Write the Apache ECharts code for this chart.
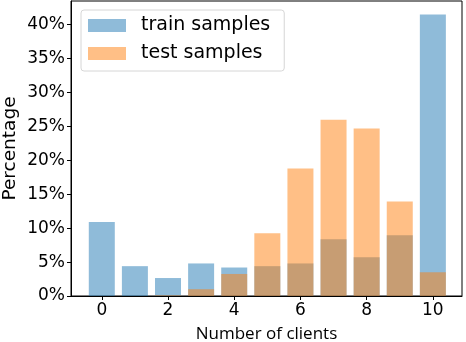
<!DOCTYPE html>
<html>
<head>
<meta charset="utf-8">
<script src="https://cdn.jsdelivr.net/npm/echarts@6/dist/echarts.min.js"></script>
<style>
  html, body { margin: 0; padding: 0; background: #fff; }
  #chart { width: 466px; height: 342px; }
</style>
</head>
<body>
<div id="chart"></div>
<script>
// number of clients on x
const clients = [0, 1, 2, 3, 4, 5, 6, 7, 8, 9, 10]
// percentages
const trainPct = [10.9, 4.4, 2.65, 4.8, 4.2, 4.4, 4.8, 8.35, 5.7, 8.95, 41.5]
const testPct = [0, 0, 0.1, 1.0, 3.25, 9.25, 18.8, 26.0, 24.7, 13.95, 3.5]
const xTicks = [0, 2, 4, 6, 8, 10]
const yTicks = [0, 5, 10, 15, 20, 25, 30, 35, 40]

const chart = echarts.init(document.getElementById('chart'))

const axisFont = 'DejaVu Sans'

const option = {
  animation: false,
  grid: {
    left: 71,
    right: 4,
    top: 1,
    bottom: 46,
    outerBoundsMode: 'none',
    show: true,
    borderColor: '#000',
    borderWidth: 1
  },
  legend: {
    left: 81,
    top: 10,
    orient: 'vertical',
    icon: 'rect',
    itemWidth: 38,
    itemHeight: 13,
    itemGap: 9,
    padding: [6, 14, 8, 7],
    borderColor: '#d6d6d6',
    borderWidth: 1,
    borderRadius: 3,
    backgroundColor: 'rgba(255,255,255,0.8)',
    textStyle: {
      fontFamily: axisFont,
      fontSize: 19,
      color: '#000',
      padding: [0, 0, 0, 10]
    },
    data: ['train samples', 'test samples']
  },
  xAxis: {
    type: 'value',
    min: -0.93,
    max: 10.88,
    splitLine: { show: false },
    axisLine: { lineStyle: { color: '#000' } },
    axisTick: { show: true, length: 4, customValues: xTicks, lineStyle: { color: '#000' } },
    axisLabel: {
      customValues: xTicks,
      color: '#000',
      fontFamily: axisFont,
      fontSize: 17,
      margin: 6
    },
    name: 'Number of clients',
    nameLocation: 'middle',
    nameMoveOverlap: false,
    nameGap: 30,
    nameTextStyle: {
      fontFamily: 'Open Sans',
      fontSize: 17,
      color: '#000'
    }
  },
  yAxis: {
    type: 'value',
    min: 0,
    max: 43.5,
    splitLine: { show: false },
    axisLine: { show: true, onZero: false, lineStyle: { color: '#000' } },
    axisTick: { show: true, length: 4, customValues: yTicks, lineStyle: { color: '#000' } },
    axisLabel: {
      customValues: yTicks,
      formatter: v => v + '%',
      color: '#000',
      fontFamily: axisFont,
      fontSize: 17,
      margin: 6
    },
    name: 'Percentage',
    nameLocation: 'middle',
    nameMoveOverlap: false,
    nameGap: 51,
    nameTextStyle: {
      fontFamily: axisFont,
      fontSize: 18.5,
      color: '#000'
    }
  },
  series: [
    {
      name: 'train samples',
      type: 'bar',
      barWidth: 26,
      barGap: '-100%',
      itemStyle: { color: 'rgba(31,119,180,0.5)' },
      data: clients.map((c, i) => [c, trainPct[i]])
    },
    {
      name: 'test samples',
      type: 'bar',
      barWidth: 26,
      barGap: '-100%',
      itemStyle: { color: 'rgba(255,127,14,0.5)' },
      data: clients.map((c, i) => [c, testPct[i]])
    }
  ]
}

chart.setOption(option)
</script>
</body>
</html>
